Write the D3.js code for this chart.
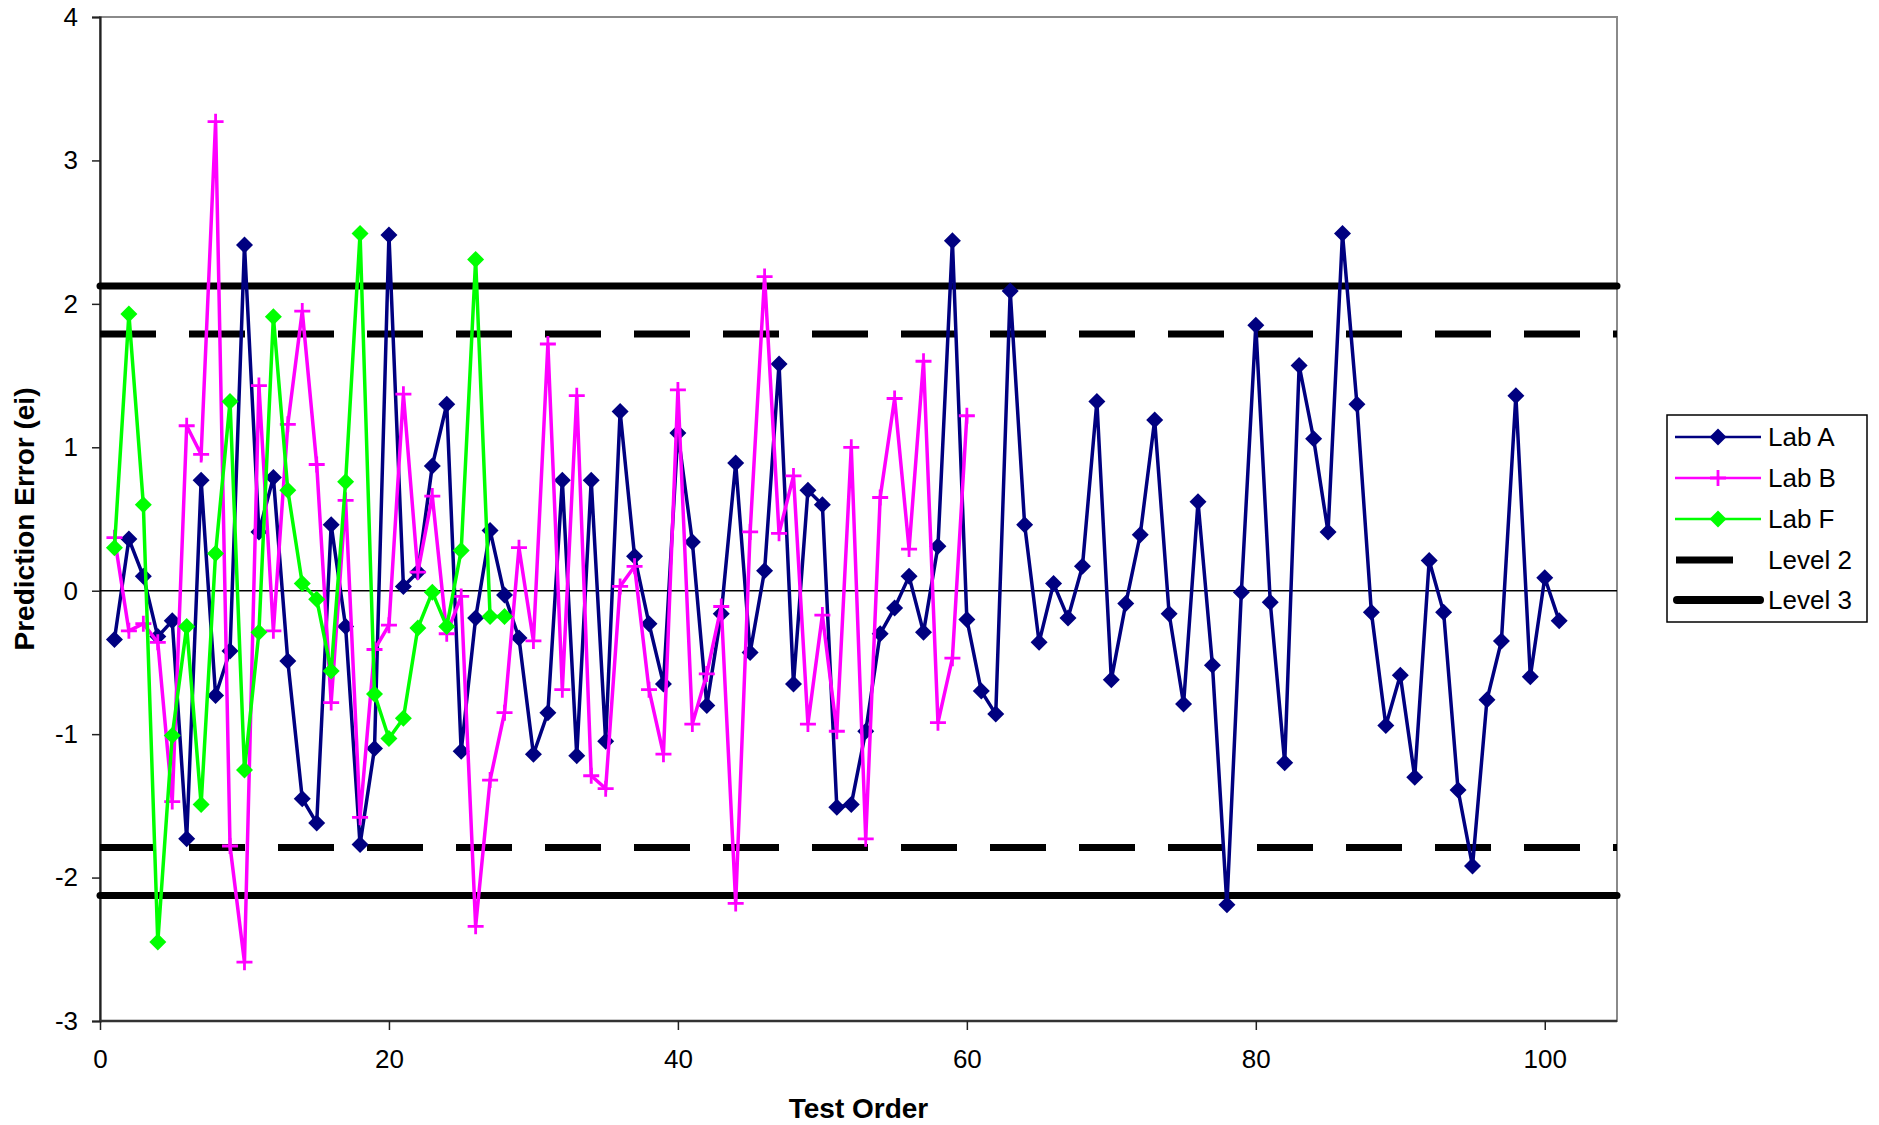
<!DOCTYPE html>
<html>
<head>
<meta charset="utf-8">
<script src="https://cdn.jsdelivr.net/npm/d3@7"></script>
<style>
  html, body { margin: 0; padding: 0; background: #fff; }
  svg { display: block; font-family: "Liberation Sans", Arial, sans-serif; }
</style>
</head>
<body>
<svg id="chart" width="1879" height="1125"></svg>
<script>
// ---- data ----
const labA = [-0.34, 0.36, 0.10, -0.32, -0.21, -1.73, 0.77, -0.73, -0.42, 2.41,
  0.41, 0.79, -0.49, -1.45, -1.62, 0.46, -0.25, -1.77, -1.10, 2.48,
  0.03, 0.13, 0.87, 1.30, -1.12, -0.19, 0.42, -0.03, -0.33, -1.14,
  -0.85, 0.77, -1.15, 0.77, -1.05, 1.25, 0.24, -0.23, -0.65, 1.10,
  0.34, -0.80, -0.16, 0.89, -0.43, 0.14, 1.58, -0.65, 0.70, 0.60,
  -1.51, -1.49, -0.98, -0.30, -0.12, 0.10, -0.29, 0.31, 2.44, -0.20,
  -0.70, -0.86, 2.09, 0.46, -0.36, 0.05, -0.19, 0.17, 1.32, -0.62,
  -0.09, 0.39, 1.19, -0.16, -0.79, 0.62, -0.52, -2.19, -0.01, 1.85,
  -0.08, -1.20, 1.57, 1.06, 0.41, 2.49, 1.30, -0.15, -0.94, -0.59,
  -1.30, 0.21, -0.15, -1.39, -1.92, -0.76, -0.35, 1.36, -0.60, 0.09,
  -0.21];
const labB = [0.37, -0.28, -0.23, -0.36, -1.47, 1.15, 0.95, 3.27, -1.78, -2.59,
  1.43, -0.28, 1.16, 1.95, 0.88, -0.78, 0.63, -1.58, -0.41, -0.24,
  1.37, 0.13, 0.66, -0.30, -0.04, -2.34, -1.32, -0.85, 0.30, -0.35,
  1.72, -0.69, 1.36, -1.29, -1.38, 0.03, 0.17, -0.69, -1.14, 1.40,
  -0.93, -0.58, -0.11, -2.18, 0.41, 2.19, 0.40, 0.80, -0.93, -0.17,
  -0.98, 1.00, -1.73, 0.65, 1.34, 0.29, 1.60, -0.92, -0.47, 1.22];
const labF = [0.30, 1.93, 0.60, -2.45, -1.01, -0.25, -1.49, 0.26, 1.32, -1.25,
  -0.29, 1.91, 0.70, 0.05, -0.06, -0.56, 0.76, 2.49, -0.72, -1.03,
  -0.89, -0.26, -0.01, -0.25, 0.28, 2.31, -0.18, -0.18];
const level2 = 1.79;
const level3 = 2.125;
const xTicks = [0, 20, 40, 60, 80, 100];
const yTicks = [-3, -2, -1, 0, 1, 2, 3, 4];
const xDomain = [0, 105];
const yDomain = [-3, 4];
const seriesNames = ["Lab A", "Lab B", "Lab F", "Level 2", "Level 3"];

// ---- layout ----
const L = 100, R = 1617, T = 17, B = 1021;
const svg = d3.select("#chart");
const x = d3.scaleLinear().domain(xDomain).range([L, R]);
const y = d3.scaleLinear().domain(yDomain).range([B, T]);

// plot frame (top/right gray)
svg.append("rect").attr("x", L).attr("y", T).attr("width", R - L).attr("height", B - T)
  .attr("fill", "none").attr("stroke", "#8a8a8a").attr("stroke-width", 2);

// axes
const yAxis = d3.axisLeft(y).tickValues(yTicks).tickSize(8).tickPadding(14).tickFormat(d3.format("d"));
const gy = svg.append("g").attr("transform", `translate(${L},0)`).call(yAxis);
gy.select(".domain").attr("stroke", "#222").attr("stroke-width", 2.2);
gy.selectAll(".tick line").attr("stroke", "#222").attr("stroke-width", 1.5);
gy.selectAll(".tick text").attr("font-size", 26).attr("fill", "#000")
  .text(d => d < 0 ? "-" + Math.abs(d) : d);

const xAxis = d3.axisBottom(x).tickValues(xTicks).tickSize(9).tickPadding(20).tickFormat(d3.format("d"));
const gx = svg.append("g").attr("transform", `translate(0,${B})`).call(xAxis);
gx.select(".domain").attr("stroke", "#333").attr("stroke-width", 2.5);
gx.selectAll(".tick line").attr("stroke", "#222").attr("stroke-width", 1.5);
gx.selectAll(".tick text").attr("font-size", 26).attr("fill", "#000");
gx.selectAll(".domain").attr("d", `M${L},0H${R}`);

// axis titles
svg.append("text").attr("x", (L + R) / 2).attr("y", 1118).attr("text-anchor", "middle")
  .attr("font-size", 28).attr("font-weight", "bold").text("Test Order");
svg.append("text").attr("transform", `translate(34,${(T + B) / 2}) rotate(-90)`)
  .attr("text-anchor", "middle").attr("font-size", 28).attr("font-weight", "bold")
  .text("Prediction Error (ei)");

// zero line
svg.append("line").attr("x1", x(0)).attr("x2", x(105)).attr("y1", y(0)).attr("y2", y(0))
  .attr("stroke", "#000").attr("stroke-width", 1.6);

// level lines
const lvl = svg.append("g");
[level2, -level2].forEach(v => {
  lvl.append("line").attr("x1", x(0)).attr("x2", x(105)).attr("y1", y(v)).attr("y2", y(v))
    .attr("stroke", "#000").attr("stroke-width", 7).attr("stroke-dasharray", "56 33");
});
[level3, -level3].forEach(v => {
  lvl.append("line").attr("x1", x(0)).attr("x2", x(105)).attr("y1", y(v)).attr("y2", y(v))
    .attr("stroke", "#000").attr("stroke-width", 7).attr("stroke-linecap", "round");
});

const line = d3.line().x((d, i) => x(i + 1)).y(d => y(d));
const diamond = (s) => `M0,${-s}L${s},0L0,${s}L${-s},0Z`;

function drawSeries(data, color, marker) {
  const g = svg.append("g");
  g.append("path").attr("d", line(data)).attr("fill", "none").attr("stroke", color)
    .attr("stroke-width", 3.5).attr("stroke-linejoin", "miter");
  const m = g.selectAll("g.m").data(data).join("g")
    .attr("transform", (d, i) => `translate(${x(i + 1)},${y(d)})`);
  if (marker === "diamond") {
    m.append("path").attr("d", diamond(8.5)).attr("fill", color);
  } else {
    m.append("path").attr("d", "M-8,0H8M0,-8V8").attr("stroke", color).attr("stroke-width", 2.8);
  }
}
drawSeries(labA, "#000080", "diamond");
drawSeries(labB, "#FF00FF", "plus");
drawSeries(labF, "#00FF00", "diamond");

// legend
const lg = svg.append("g");
lg.append("rect").attr("x", 1667).attr("y", 415).attr("width", 200).attr("height", 207)
  .attr("fill", "#fff").attr("stroke", "#000").attr("stroke-width", 1.5);
const rows = [437, 478, 519, 560, 600];
const legColors = ["#000080", "#FF00FF", "#00FF00"];
seriesNames.forEach((name, i) => {
  const cy = rows[i];
  if (i < 3) {
    lg.append("line").attr("x1", 1675).attr("x2", 1761).attr("y1", cy).attr("y2", cy)
      .attr("stroke", legColors[i]).attr("stroke-width", 2.5);
    if (i === 1) {
      lg.append("path").attr("d", `M${1710},${cy}H${1726}M${1718},${cy - 8}V${cy + 8}`)
        .attr("stroke", legColors[i]).attr("stroke-width", 2.8);
    } else {
      lg.append("path").attr("transform", `translate(1718,${cy})`).attr("d", diamond(8.5)).attr("fill", legColors[i]);
    }
  } else if (i === 3) {
    lg.append("line").attr("x1", 1676).attr("x2", 1733).attr("y1", cy).attr("y2", cy)
      .attr("stroke", "#000").attr("stroke-width", 7);
  } else {
    lg.append("line").attr("x1", 1677).attr("x2", 1760).attr("y1", cy).attr("y2", cy)
      .attr("stroke", "#000").attr("stroke-width", 8).attr("stroke-linecap", "round");
  }
  lg.append("text").attr("x", 1768).attr("y", cy).attr("dy", "0.35em")
    .attr("font-size", 26).attr("fill", "#000").text(name);
});
</script>
</body>
</html>
